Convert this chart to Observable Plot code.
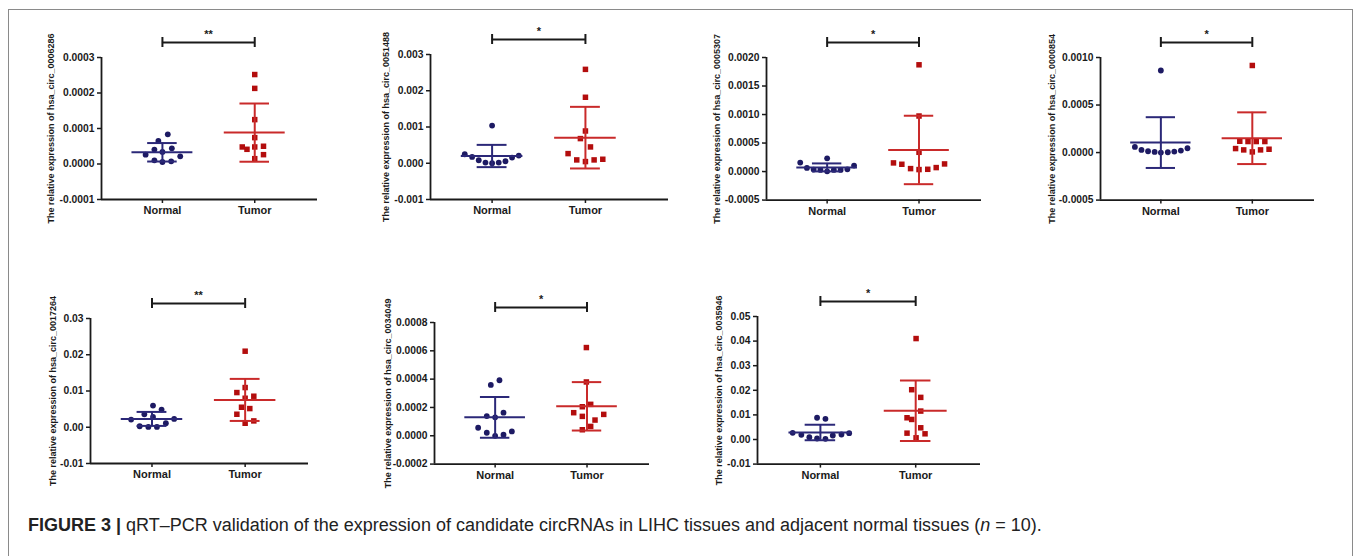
<!DOCTYPE html>
<html><head><meta charset="utf-8">
<script src="https://cdn.jsdelivr.net/npm/d3@7"></script>
<script src="https://cdn.jsdelivr.net/npm/@observablehq/plot@0.6"></script>
<style>
body{margin:0;background:#fff;}
#fig{position:relative;width:1356px;height:556px;overflow:hidden;font-family:"Liberation Sans",Arial,sans-serif;}
#frame{position:absolute;left:8px;top:9px;width:1343px;height:600px;border:1px solid #8a8a8a;}
.panel{position:absolute;}
#caption{position:absolute;left:28px;top:515px;font-size:18px;color:#222;white-space:nowrap;}
</style></head><body>
<div id="fig"><div id="frame"></div>
<div id="caption"><b>FIGURE 3 |</b> qRT–PCR validation of the expression of candidate circRNAs in LIHC tissues and adjacent normal tissues (<i>n</i> = 10).</div>
</div>
<script>
// ---------- DATA ----------
const categories = ["Normal", "Tumor"];
const genes = ["hsa_circ_0006286","hsa_circ_0051488","hsa_circ_0005307","hsa_circ_0000854","hsa_circ_0017264","hsa_circ_0034049","hsa_circ_0035946"];
const stars = ["**","*","*","*","**","*","*"];

const yTicks = [
  [-0.0001, 0, 0.0001, 0.0002, 0.0003],
  [-0.001, 0, 0.001, 0.002, 0.003],
  [-0.0005, 0, 0.0005, 0.0010, 0.0015, 0.0020],
  [-0.0005, 0, 0.0005, 0.0010],
  [-0.01, 0, 0.01, 0.02, 0.03],
  [-0.0002, 0, 0.0002, 0.0004, 0.0006, 0.0008],
  [-0.01, 0, 0.01, 0.02, 0.03, 0.04, 0.05]
];
const tickDecimals = [4, 3, 4, 4, 2, 4, 2];

const normalValues = [
  [8.37e-5, 6.49e-5, 4.05e-5, 3.39e-5, 4.42e-5, 2.63e-5, 2.16e-5, 1.03e-5, 0.56e-5, 0.75e-5],
  [1.04e-3, 2.48e-4, 1.74e-4, 8.3e-5, 1.8e-5, 0, 1.8e-5, 5.5e-5, 1.56e-4, 2.11e-4],
  [1.57e-4, 6.4e-5, 3.5e-5, 2.9e-5, 2.33e-4, 5e-6, 2.9e-5, 2.9e-5, 4.0e-5, 1.05e-4],
  [8.63e-4, 5.96e-5, 2.8e-5, 1.4e-5, 7e-6, 0, 3.5e-6, 1.05e-5, 2.1e-5, 4.56e-5],
  [5.98e-3, 4.88e-3, 3.59e-3, 2.85e-3, 2.12e-3, 2.3e-3, 1.1e-3, 2.8e-4, 1e-4, 1e-4],
  [3.92e-4, 3.59e-4, 1.63e-4, 1.39e-4, 1.3e-4, 5.66e-5, 3.07e-5, 2.12e-5, 7.1e-6, 0],
  [8.83e-3, 8.42e-3, 2.72e-3, 1.9e-3, 9.5e-4, 4e-4, 2.7e-4, 1.63e-3, 2.04e-3, 2.58e-3]
];
const normalJitter = [
  [0.058, -0.044, -0.087, 0, 0.102, -0.182, 0.193, -0.087, 0, 0.095],
  [0, -0.293, -0.214, -0.143, -0.071, 0, 0.071, 0.143, 0.214, 0.286],
  [-0.293, -0.22, -0.147, -0.073, 0, 0, 0.073, 0.147, 0.22, 0.293],
  [0, -0.284, -0.212, -0.14, -0.068, 0, 0.076, 0.147, 0.219, 0.291],
  [0.011, 0.103, -0.082, 0.011, -0.224, 0.238, 0.149, -0.132, -0.039, 0.053],
  [0.047, -0.047, 0.091, -0.091, 0, -0.185, 0.182, -0.091, 0.091, 0],
  [-0.035, 0.053, -0.291, -0.2, -0.116, -0.035, 0.053, 0.13, 0.221, 0.302]
];
const tumorValues = [
  [2.52e-4, 2.13e-4, 1.25e-4, 7.43e-5, 4.8e-5, 4.14e-5, 4.8e-5, 5.0e-5, 2.63e-5, 1.5e-5],
  [2.59e-3, 1.82e-3, 8.9e-4, 6.8e-4, 4.5e-4, 2.66e-4, 9.2e-5, 4.6e-5, 9.2e-5, 1.1e-4],
  [1.872e-3, 9.74e-4, 3.38e-4, 1.52e-4, 1.28e-4, 5.2e-5, 3.5e-5, 4.0e-5, 7.0e-5, 1.34e-4],
  [9.16e-4, 1.19e-4, 1.16e-4, 1.16e-4, 1.16e-4, 4.2e-5, 2.8e-5, 7e-6, 2.8e-5, 3.5e-5],
  [2.098e-2, 1.095e-2, 9.57e-3, 8.56e-3, 8.0e-3, 5.52e-3, 5.15e-3, 3.59e-3, 1.75e-3, 1.1e-3],
  [6.23e-4, 3.8e-4, 2.22e-4, 2.05e-4, 1.63e-4, 1.51e-4, 1.37e-4, 1.11e-4, 6.61e-5, 4.25e-5],
  [4.103e-2, 2.024e-2, 1.712e-2, 1.155e-2, 8.83e-3, 8.15e-3, 4.76e-3, 2.58e-3, 2.31e-3, 6.8e-4]
];
const tumorJitter = [
  [0, 0, 0, 0, -0.135, -0.084, 0, 0.095, 0.095, 0],
  [0, 0, 0, -0.054, 0.054, -0.186, -0.093, 0, 0.093, 0.186],
  [0, 0, 0, -0.278, -0.187, -0.092, 0, 0.095, 0.187, 0.278],
  [0, -0.137, -0.047, 0.043, 0.137, -0.183, -0.094, 0, 0.09, 0.183],
  [0, 0, -0.089, 0.093, 0, -0.039, 0.05, -0.089, 0.093, 0],
  [-0.007, -0.007, 0.04, -0.051, -0.145, 0.182, -0.051, 0.087, 0.04, -0.051],
  [0.004, -0.042, 0.053, 0.053, -0.091, -0.042, 0.053, -0.091, 0.098, 0.004]
];
const normalMean = [3.3e-5, 2.0e-4, 7.3e-5, 1.05e-4, 2.3e-3, 1.3e-4, 2.85e-3];
const normalSD   = [2.6e-5, 3.07e-4, 7.0e-5, 2.67e-4, 1.93e-3, 1.44e-4, 3.15e-3];
const tumorMean  = [8.84e-5, 7.06e-4, 3.79e-4, 1.51e-4, 7.54e-3, 2.08e-4, 1.168e-2];
const tumorSD    = [8.2e-5, 8.5e-4, 6.0e-4, 2.72e-4, 5.8e-3, 1.71e-4, 1.23e-2];

// ---------- LAYOUT (pixels) ----------
const layout = [
  {axisX:101, xEnd:317, yTop:57.3, yBot:199.3, titleOff:50, xhi:2.68},
  {axisX:430, xEnd:668, yTop:54.3, yBot:199.3, titleOff:44, xhi:2.89},
  {axisX:766, xEnd:981, yTop:56.7, yBot:199.3, titleOff:49, xhi:2.68},
  {axisX:1100, xEnd:1314, yTop:56.7, yBot:199.3, titleOff:48, xhi:2.68},
  {axisX:90, xEnd:308, yTop:318.3, yBot:463.3, titleOff:37, xhi:2.68},
  {axisX:434, xEnd:649, yTop:321.7, yBot:463.3, titleOff:46, xhi:2.68},
  {axisX:757, xEnd:980, yTop:315.7, yBot:463.3, titleOff:38, xhi:2.68}
];
const ML = 62, MR = 12, MT = 40, MB = 26, XLO = 0.34;
const ink = "#1a1a1a";
const navyDot = "#1d1a63", navyLine = "#2b2878";
const redDot = "#b30d0d", redLine = "#c92a2a";

const fig = document.getElementById("fig");

genes.forEach((gene, i) => {
  const L = layout[i];
  const innerW = L.xEnd - L.axisX;
  const innerH = L.yBot - L.yTop;
  const ticks = yTicks[i];
  const ymin = ticks[0], ymax = ticks[ticks.length - 1];
  const k = (ymax - ymin) / innerH; // data units per pixel
  const bY = ymax + 15 * k;

  const nPts = normalValues[i].map((v, j) => ({x: 1 + normalJitter[i][j], y: v}));
  const tPts = tumorValues[i].map((v, j) => ({x: 2 + tumorJitter[i][j], y: v}));
  const groups = [
    {g: 1, mean: normalMean[i], sd: normalSD[i], line: navyLine},
    {g: 2, mean: tumorMean[i], sd: tumorSD[i], line: redLine}
  ];

  const marks = [
    Plot.ruleX([XLO], {y1: ymin, y2: ymax, stroke: ink, strokeWidth: 1.8}),
    Plot.ruleY([ymin], {x1: XLO, x2: L.xhi, stroke: ink, strokeWidth: 1.8}),
    Plot.axisY({ticks, tickFormat: d => d.toFixed(tickDecimals[i]), tickSize: 4, tickPadding: 3,
      fontSize: 10.3, fontWeight: "bold", stroke: ink, strokeWidth: 1.5, label: null}),
    Plot.axisX({ticks: [1, 2], tickFormat: d => categories[d - 1], tickSize: 4, tickPadding: 3,
      fontSize: 11, fontWeight: "bold", stroke: ink, strokeWidth: 1.5, label: null}),
    Plot.text([gene], {frameAnchor: "left", textAnchor: "middle", lineAnchor: "middle", dx: -L.titleOff, rotate: -90,
      text: d => `The relative expression of ${d}`, fontSize: 9, fontWeight: "bold", fill: ink}),
    Plot.dot(nPts, {x: "x", y: "y", symbol: "circle", r: 2.9, fill: navyDot}),
    Plot.dot(tPts, {x: "x", y: "y", symbol: "square", r: 3.1, fill: redDot}),
  ];
  groups.forEach(G => {
    marks.push(
      Plot.ruleY([G.mean], {x1: G.g - 0.33, x2: G.g + 0.33, stroke: G.line, strokeWidth: 2}),
      Plot.ruleX([G.g], {y1: G.mean - G.sd, y2: G.mean + G.sd, stroke: G.line, strokeWidth: 2}),
      Plot.ruleY([G.mean - G.sd, G.mean + G.sd], {x1: G.g - 0.16, x2: G.g + 0.16, stroke: G.line, strokeWidth: 2})
    );
  });
  marks.push(
    Plot.ruleY([bY], {x1: 1, x2: 2, stroke: ink, strokeWidth: 2}),
    Plot.ruleX([1, 2], {y1: bY - 5 * k, y2: bY + 5 * k, stroke: ink, strokeWidth: 2}),
    Plot.text([stars[i]], {x: 1.5, y: bY, dy: -8, text: d => d, fontSize: 11, fontWeight: "bold", fill: ink})
  );

  const svg = Plot.plot({
    width: ML + innerW + MR,
    height: MT + innerH + MB,
    marginLeft: ML, marginRight: MR, marginTop: MT, marginBottom: MB,
    x: {domain: [XLO, L.xhi]},
    y: {domain: [ymin, ymax]},
    style: {fontFamily: '"Liberation Sans", Arial, sans-serif', color: ink, background: "transparent", overflow: "visible"},
    marks
  });
  svg.classList.add("panel");
  svg.style.position = "absolute";
  svg.style.left = (L.axisX - ML) + "px";
  svg.style.top = (L.yTop - MT) + "px";
  fig.appendChild(svg);
});
</script>
</body></html>
